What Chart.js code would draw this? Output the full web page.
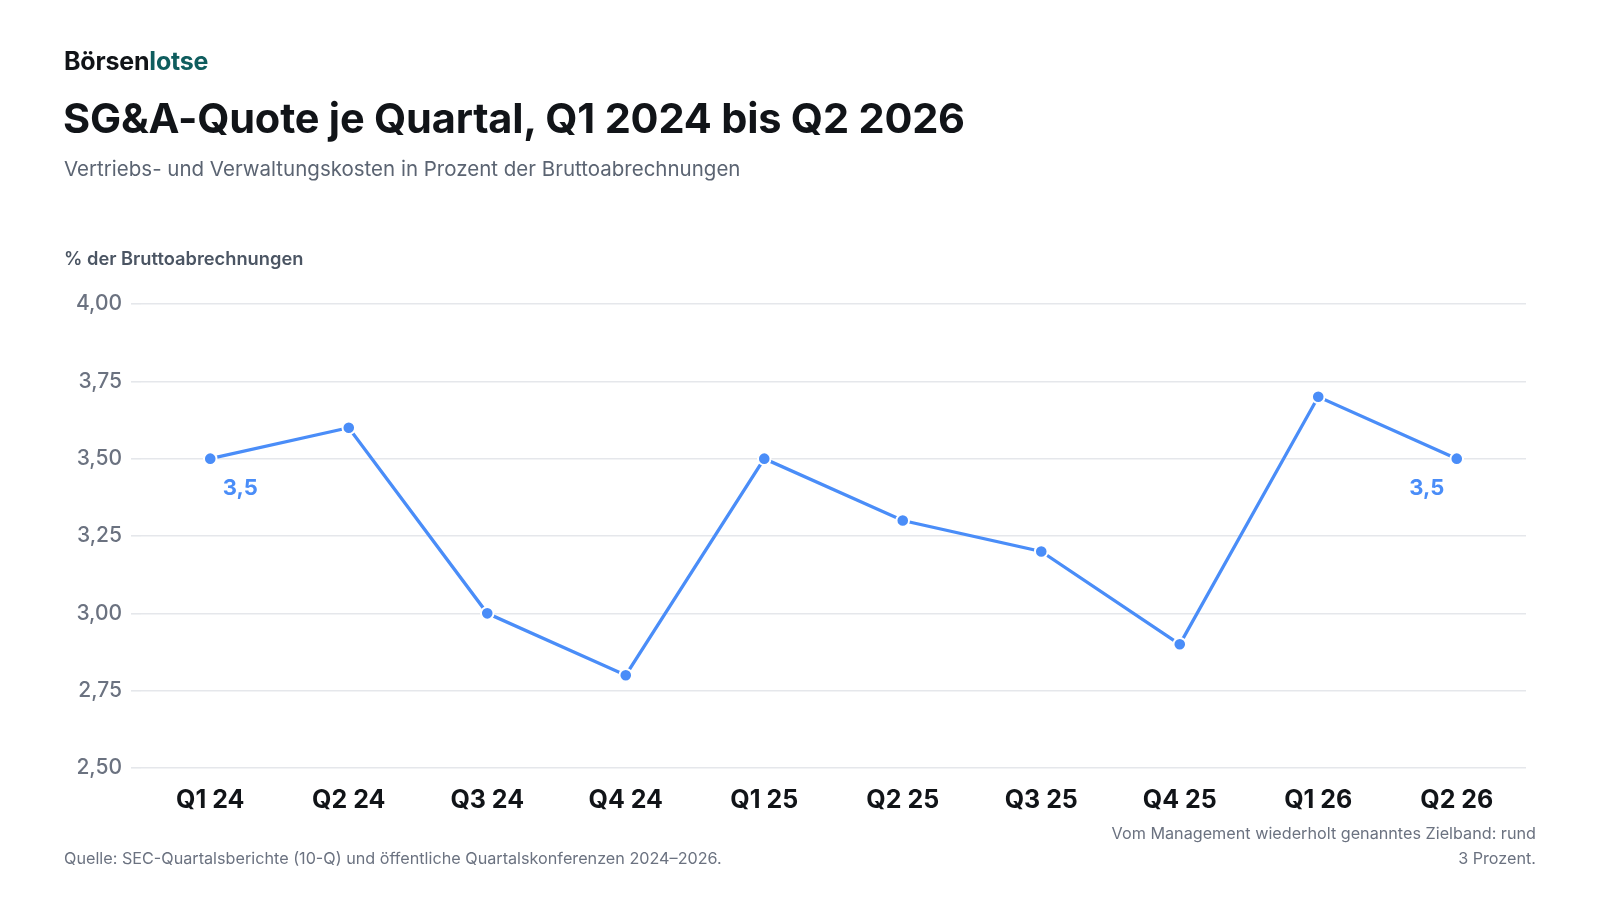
<!DOCTYPE html>
<html lang="de">
<head>
<meta charset="utf-8">
<title>SG&amp;A-Quote je Quartal</title>
<script src="https://cdn.jsdelivr.net/npm/chart.js@4.4.1/dist/chart.umd.min.js"></script>
<style>
  html, body { margin: 0; padding: 0; background: #fff; }
  body { width: 1600px; height: 900px; position: relative; overflow: hidden; font-family: Inter, "Noto Sans", sans-serif; }
  #chart { position: absolute; left: 0; top: 0; }
  .txt { position: absolute; white-space: nowrap; line-height: 1; }
  .brand { left: 64px; top: 49px; font-size: 25px; font-weight: 700; color: #111418; letter-spacing: -0.2px; }
  .brand span { color: #0f5d5e; }
  .title { left: 63px; top: 98px; font-size: 41.5px; font-weight: 700; color: #111418; letter-spacing: -0.2px; }
  .subtitle { left: 64px; top: 159px; font-size: 20.5px; color: #5b6472; }
  .axis-title { left: 64px; top: 249px; font-size: 18.3px; font-weight: 600; color: #4b5563; }
  .source { left: 64px; top: 850px; font-size: 16.2px; color: #6b7280; }
  .note { right: 64px; top: 821px; font-size: 16.2px; color: #6b7280; text-align: right; line-height: 25px; }
</style>
</head>
<body>
<canvas id="chart" width="1600" height="900"></canvas>
<div class="txt brand">Börsen<span>lotse</span></div>
<div class="txt title">SG&amp;A-Quote je Quartal, Q1 2024 bis Q2 2026</div>
<div class="txt subtitle">Vertriebs- und Verwaltungskosten in Prozent der Bruttoabrechnungen</div>
<div class="txt axis-title">% der Bruttoabrechnungen</div>
<div class="txt source">Quelle: SEC-Quartalsberichte (10-Q) und öffentliche Quartalskonferenzen 2024–2026.</div>
<div class="txt note">Vom Management wiederholt genanntes Zielband: rund<br>3 Prozent.</div>
<script>
const quarters = ['Q1 24', 'Q2 24', 'Q3 24', 'Q4 24', 'Q1 25', 'Q2 25', 'Q3 25', 'Q4 25', 'Q1 26', 'Q2 26'];
const sgaRatio = [3.5, 3.6, 3.0, 2.8, 3.5, 3.3, 3.2, 2.9, 3.7, 3.5];
const labelledPoints = [0, 9];
const yTicks = [2.5, 2.75, 3.0, 3.25, 3.5, 3.75, 4.0];

const BLUE = '#4a8df8';
const fmt = v => v.toFixed(2).replace('.', ',');

// write "3,5" under the first and the last point
const pointLabels = {
    id: 'pointLabels',
    afterDatasetsDraw(chart) {
        const ctx = chart.ctx;
        const meta = chart.getDatasetMeta(0);
        ctx.save();
        ctx.font = '700 22px Inter, sans-serif';
        ctx.fillStyle = BLUE;
        ctx.textBaseline = 'middle';
        ctx.textAlign = 'center';
        labelledPoints.forEach(i => {
            const pt = meta.data[i];
            const dx = i === 0 ? 30 : -30;
            ctx.fillText(String(sgaRatio[i]).replace('.', ','), pt.x + dx, pt.y + 30);
        });
        ctx.restore();
    }
};

new Chart(document.getElementById('chart').getContext('2d'), {
    type: 'line',
    data: {
        labels: quarters,
        datasets: [{
            data: sgaRatio,
            borderColor: BLUE,
            backgroundColor: BLUE,
            borderWidth: 3.3,
            pointRadius: 6.3,
            pointHoverRadius: 6.3,
            pointBorderWidth: 2,
            pointBorderColor: '#ffffff',
            tension: 0
        }]
    },
    options: {
        responsive: false,
        animation: false,
        layout: { padding: { left: 60, right: 74, top: 304, bottom: 72 } },
        plugins: { legend: { display: false }, tooltip: { enabled: false } },
        scales: {
            x: {
                offset: true,
                grid: { display: false },
                border: { display: false },
                ticks: { color: '#111418', font: { family: 'Inter', size: 25, weight: '700' }, padding: 9 },
                afterFit: s => { s.height = 60; }
            },
            y: {
                min: 2.5,
                max: 4.0,
                afterBuildTicks: s => { s.ticks = yTicks.map(v => ({ value: v })); },
                grid: { color: '#e5e7eb', lineWidth: 1.6, tickLength: 10 },
                border: { display: false },
                ticks: { color: '#6b7280', font: { family: 'Inter', size: 21, weight: '500' }, padding: 9, callback: v => fmt(v) },
                afterFit: s => { s.width = 81; }
            }
        }
    },
    plugins: [pointLabels]
});
</script>
</body>
</html>
